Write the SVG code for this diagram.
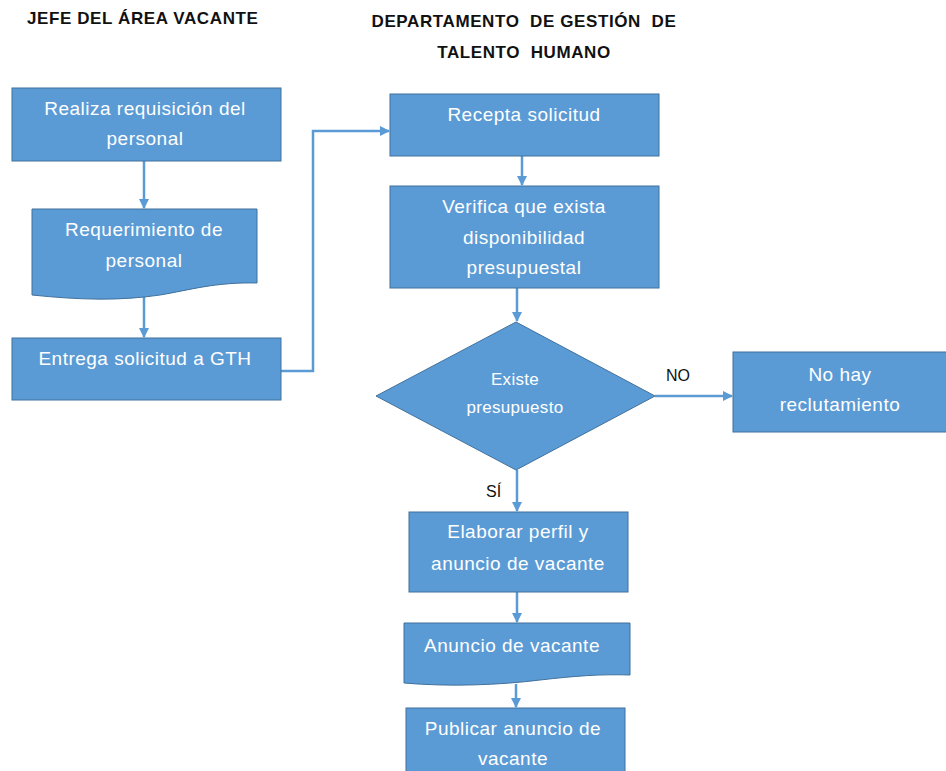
<svg xmlns="http://www.w3.org/2000/svg" width="946" height="771" viewBox="0 0 946 771">
  <style>
    .box { fill: #5B9BD5; stroke: #41719C; stroke-width: 1; }
    .lbl { fill: #ffffff; font-family: "Liberation Sans", Arial, sans-serif; font-size: 19px; letter-spacing: 0.5px; text-anchor: middle; }
    .dlbl { fill: #ffffff; font-family: "Liberation Sans", Arial, sans-serif; font-size: 17px; letter-spacing: 0.3px; text-anchor: middle; }
    .title { fill: #111111; font-family: "Liberation Sans", Arial, sans-serif; font-size: 17px; font-weight: bold; letter-spacing: 0.6px; }
    .edge { fill: none; stroke: #5B9BD5; stroke-width: 2.5; marker-end: url(#arrow); }
    .elbl { fill: #111111; font-family: "Liberation Sans", Arial, sans-serif; font-size: 16px; }
  </style>
  <defs>
    <marker id="arrow" viewBox="0 0 10 10" refX="9" refY="5" markerWidth="4" markerHeight="4" orient="auto" markerUnits="strokeWidth">
      <path d="M0,0 L10,5 L0,10 z" fill="#5B9BD5"/>
    </marker>
  </defs>
  <rect width="946" height="771" fill="#ffffff"/>

  <!-- lane headings -->
  <text class="title" x="27" y="24">JEFE DEL ÁREA VACANTE</text>
  <text class="title" x="524" y="27" text-anchor="middle" xml:space="preserve">DEPARTAMENTO  DE GESTIÓN  DE</text>
  <text class="title" x="524" y="58" text-anchor="middle" xml:space="preserve">TALENTO  HUMANO</text>

  <!-- connectors -->
  <g id="connectors">
    <path class="edge" d="M144,161 V208"/>
    <path class="edge" d="M144,296 V337"/>
    <path class="edge" d="M281,371 H313 V131 H389"/>
    <path class="edge" d="M522,156 V185"/>
    <path class="edge" d="M517,288 V321"/>
    <path class="edge" d="M655,396 H732"/>
    <path class="edge" d="M517,470 V511"/>
    <path class="edge" d="M517,592 V622"/>
    <path class="edge" d="M516,684 V707"/>
    <text class="elbl" x="666" y="381">NO</text>
    <text class="elbl" x="486" y="497">SÍ</text>
  </g>

  <g id="realiza">
    <rect class="box" x="12" y="88" width="269" height="73"/>
    <text class="lbl" x="145" y="115">Realiza requisición del</text>
    <text class="lbl" x="145" y="145">personal</text>
  </g>

  <g id="requerimiento">
    <path class="box" d="M32,209 H257 V283 C215,282 190,290 160,295 C120,301 80,300 32,295 Z"/>
    <text class="lbl" x="144" y="236">Requerimiento de</text>
    <text class="lbl" x="144" y="267">personal</text>
  </g>

  <g id="entrega">
    <rect class="box" x="12" y="338" width="269" height="62"/>
    <text class="lbl" x="145" y="365">Entrega solicitud a GTH</text>
  </g>

  <g id="recepta">
    <rect class="box" x="390" y="94" width="269" height="62"/>
    <text class="lbl" x="524" y="121">Recepta solicitud</text>
  </g>

  <g id="verifica">
    <rect class="box" x="390" y="186" width="269" height="102"/>
    <text class="lbl" x="524" y="213">Verifica que exista</text>
    <text class="lbl" x="524" y="244">disponibilidad</text>
    <text class="lbl" x="524" y="274">presupuestal</text>
  </g>

  <g id="existe">
    <polygon class="box" points="516,322 655,396 516,470 376,396"/>
    <text class="dlbl" x="515" y="385">Existe</text>
    <text class="dlbl" x="515" y="413">presupuesto</text>
  </g>

  <g id="nohay">
    <rect class="box" x="733" y="352" width="214" height="80"/>
    <text class="lbl" x="840" y="381">No hay</text>
    <text class="lbl" x="840" y="411">reclutamiento</text>
  </g>

  <g id="elaborar">
    <rect class="box" x="409" y="512" width="219" height="80"/>
    <text class="lbl" x="518" y="538">Elaborar perfil y</text>
    <text class="lbl" x="518" y="570">anuncio de vacante</text>
  </g>

  <g id="anuncio">
    <path class="box" d="M404,623 H630 V675 C600,674 575,676 540,680 C500,685 450,687 404,683 Z"/>
    <text class="lbl" x="512" y="652">Anuncio de vacante</text>
  </g>

  <g id="publicar">
    <rect class="box" x="406" y="708" width="219" height="70"/>
    <text class="lbl" x="513" y="735">Publicar anuncio de</text>
    <text class="lbl" x="513" y="765">vacante</text>
  </g>
</svg>
